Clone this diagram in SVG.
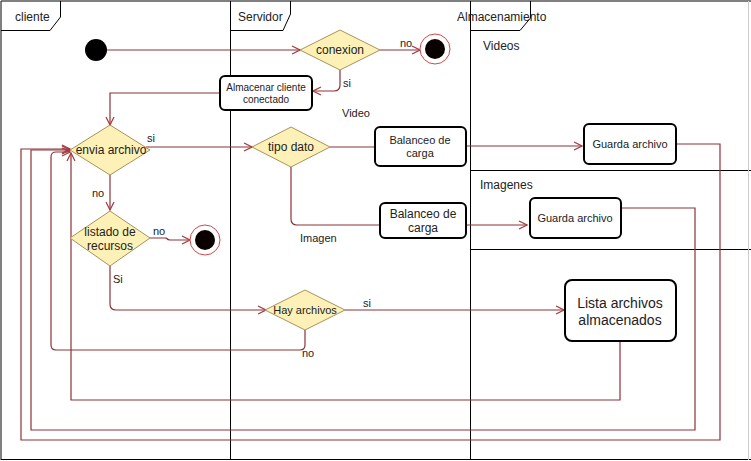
<svg xmlns="http://www.w3.org/2000/svg" width="751" height="461" viewBox="0 0 751 461">
<style>
text{font-family:"Liberation Sans",Arial,sans-serif;fill:#222}
.lane{stroke:#000;stroke-width:1;fill:none}
.dec{fill:#fdf1b8;stroke:#a8925a;stroke-width:1}
.box{fill:#fff;stroke:#000;stroke-width:2}
.c{fill:none;stroke:#8b3338;stroke-width:1.2}
.a{marker-end:url(#open)}
.t12{font-size:12px}
.t11{font-size:11px}
.t10{font-size:10px}
.t14{font-size:14px}
.mid{text-anchor:middle}
</style>
<defs>
<marker id="open" viewBox="0 0 10 10" markerWidth="10" markerHeight="10" refX="9" refY="5" orient="auto" markerUnits="userSpaceOnUse">
<path d="M1,1 L9,5 L1,9" fill="none" stroke="#a8383c" stroke-width="1.2"/>
</marker>
</defs>
<rect width="751" height="461" fill="#fff"/>
<g id="lanes">
<path class="lane" d="M1,460 V1 H751 M1,459.5 H751 M230.5,1 V460 M470.5,1 V460 M470.5,170.5 H751 M470.5,249.5 H751"/>
<path d="M748.5,1 V460" stroke="#ccc" stroke-width="1"/>
<path class="lane" d="M1,30.5 H50 L60.5,17 V1"/>
<path class="lane" d="M231,30.5 H283 L290.5,14 V1"/>
<path class="lane" d="M471,30.5 H520 L530.5,18 V1"/>
<text class="t12" x="15" y="21">cliente</text>
<text class="t12" x="238" y="21">Servidor</text>
<text class="t12" x="457" y="21">Almacenamiento</text>
<text class="t12" x="483" y="50">Videos</text>
<text class="t12" x="480" y="189">Imagenes</text>
</g>
<g id="connectors">
<path class="c a" d="M107,50 H300"/>
<path class="c a" d="M380,50 H420"/>
<path class="c a" d="M340,70 V85 Q340,91 334,91 H313"/>
<path class="c a" d="M220,93 H110 V125"/>
<path class="c a" d="M146,147 H252"/>
<path class="c" d="M330,147 H375"/>
<path class="c" d="M291,167 V219 Q291,225 297,225 H380"/>
<path class="c a" d="M466,146 H582"/>
<path class="c a" d="M466,225 H527"/>
<path class="c a" d="M110,175 V210"/>
<path class="c a" d="M150,238 H166 Q168,240 170,240 H190"/>
<path class="c a" d="M110,266 V304 Q110,310 116,310 H266"/>
<path class="c a" d="M345,310 H564"/>
<path class="c a" d="M305,330 V345 Q305,350 300,350 H56 Q51,350 51,345 V157 Q51,152 56,152 H70"/>
<path class="c a" d="M620,341 V400 H71 V153"/>
<path class="c a" d="M621,208 H695 V430 H31 V150 H70"/>
<path class="c a" d="M676,144 H720 V440 H21 V149 H70"/>
<text class="t11" x="343" y="87">si</text>
<text class="t11" x="400" y="47">no</text>
<text class="t11" x="342" y="117">Video</text>
<text class="t11" x="147" y="142">si</text>
<text class="t11" x="92" y="197">no</text>
<text class="t11" x="153" y="235">no</text>
<text class="t11" x="113" y="283">Si</text>
<text class="t11" x="300" y="242">Imagen</text>
<text class="t11" x="363" y="307">si</text>
<text class="t11" x="302" y="357">no</text>
</g>
<g id="start">
<circle cx="96" cy="50" r="11" fill="#000"/>
</g>
<g id="conexion">
<polygon class="dec" points="300,50 340,30 380,50 340,70"/>
<text class="t12 mid" x="340" y="54">conexion</text>
</g>
<g id="end1">
<circle cx="435" cy="49" r="15" fill="#fff" stroke="#d04848" stroke-width="1"/>
<circle cx="435" cy="49" r="10" fill="#0a0000"/>
</g>
<g id="almacenar">
<rect class="box" x="220" y="76" width="92" height="34" rx="5"/>
<text class="t10 mid" x="266" y="91">Almacenar cliente</text>
<text class="t10 mid" x="266" y="103">conectado</text>
</g>
<g id="envia">
<polygon class="dec" points="70,150 110,125 150,150 110,175"/>
<text class="t12 mid" x="111" y="154">envia archivo</text>
</g>
<g id="tipo">
<polygon class="dec" points="252,147 291,127 330,147 291,167"/>
<text class="t12 mid" x="291" y="151">tipo dato</text>
</g>
<g id="balanceo1">
<rect class="box" x="375" y="127" width="91" height="39" rx="5"/>
<text class="t11 mid" x="420" y="144">Balanceo de</text>
<text class="t11 mid" x="420" y="157">carga</text>
</g>
<g id="balanceo2">
<rect class="box" x="380" y="203" width="86" height="35" rx="5"/>
<text class="t12 mid" x="423" y="218">Balanceo de</text>
<text class="t12 mid" x="423" y="232">carga</text>
</g>
<g id="guarda1">
<rect class="box" x="584" y="124" width="92" height="40" rx="5"/>
<text class="t11 mid" x="630" y="148">Guarda archivo</text>
</g>
<g id="guarda2">
<rect class="box" x="530" y="198" width="91" height="40" rx="5"/>
<text class="t11 mid" x="575" y="222">Guarda archivo</text>
</g>
<g id="listado">
<polygon class="dec" points="70,238 110,211 150,238 110,266"/>
<text class="t12 mid" x="110" y="236">listado de</text>
<text class="t12 mid" x="110" y="250">recursos</text>
</g>
<g id="end2">
<circle cx="205" cy="240" r="15" fill="#fff" stroke="#d04848" stroke-width="1"/>
<circle cx="205" cy="240" r="10" fill="#0a0000"/>
</g>
<g id="hay">
<polygon class="dec" points="265,310 305,290 345,310 305,330"/>
<text class="t11 mid" x="305" y="314">Hay archivos</text>
</g>
<g id="lista">
<rect class="box" x="565" y="280" width="111" height="61" rx="7"/>
<text class="t14 mid" x="620" y="308">Lista archivos</text>
<text class="t14 mid" x="620" y="325">almacenados</text>
</g>
</svg>
